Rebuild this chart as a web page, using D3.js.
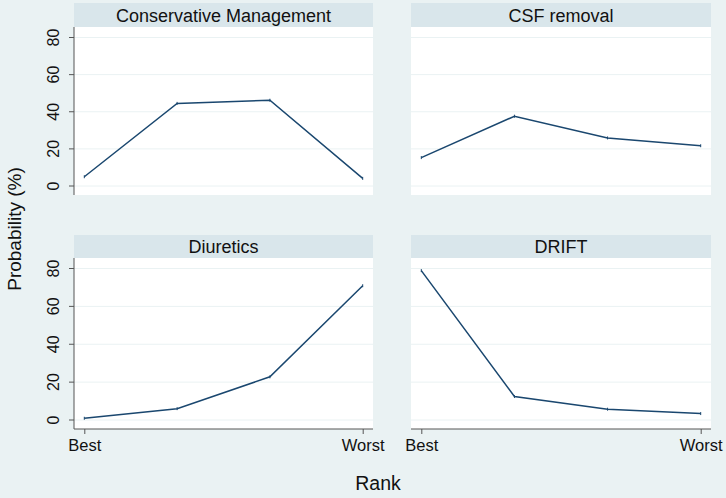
<!DOCTYPE html>
<html><head><meta charset="utf-8">
<script src="https://cdn.jsdelivr.net/npm/d3@7"></script>
<style>body{margin:0;background:#eaf2f3;}svg{display:block;font-family:Arial,"Liberation Sans",sans-serif;}</style>
</head><body>
<svg id="c" width="726" height="498"></svg>
<script>
const panels = ["Conservative Management", "CSF removal", "Diuretics", "DRIFT"];
const ranks = [1, 2, 3, 4];
const rankLabels = ["Best", "Worst"];
const conservative = [5.0, 44.5, 46.2, 4.1];
const csf = [15.3, 37.6, 25.9, 21.7];
const diuretics = [0.9, 6.0, 22.8, 70.9];
const drift = [78.9, 12.4, 5.7, 3.4];
const yTicks = [0, 20, 40, 60, 80];
const seriesList = [conservative, csf, diuretics, drift];

const svg = d3.select("#c");
const bg = "#eaf2f3", strip = "#d9e6eb", lineCol = "#1a476f";
svg.append("rect").attr("width", 726).attr("height", 498).attr("fill", bg);

const cols = [{x0: 74, x1: 373}, {x0: 411, x1: 711}];
const rows = [{s0: 3, s1: 27, p1: 195}, {s0: 235, s1: 258, p1: 429}];

panels.forEach((name, i) => {
  const c = cols[i % 2], r = rows[Math.floor(i / 2)];
  const g = svg.append("g");
  const x = d3.scaleLinear().domain([1, 4]).range([c.x0 + 10.3, c.x1 - 10.3]);
  const yBottom = r.p1 - 9, yTop = r.s1 + 10.5;
  const y = d3.scaleLinear().domain([0, 80]).range([yBottom, yTop]);
  // strip
  g.append("rect").attr("x", c.x0).attr("y", r.s0).attr("width", c.x1 - c.x0).attr("height", r.s1 - r.s0).attr("fill", strip);
  g.append("text").attr("x", (c.x0 + c.x1) / 2).attr("y", (r.s0 + r.s1) / 2 + 6.5).attr("text-anchor", "middle")
    .attr("font-size", 18).attr("fill", "#111").text(name);
  // plot
  g.append("rect").attr("x", c.x0).attr("y", r.s1).attr("width", c.x1 - c.x0).attr("height", r.p1 - r.s1).attr("fill", "#fff");
  g.selectAll(".grid").data(yTicks).join("line")
    .attr("x1", c.x0).attr("x2", c.x1).attr("y1", d => y(d)).attr("y2", d => y(d))
    .attr("stroke", bg).attr("stroke-width", 1);
  // y axis on left col
  if (i % 2 === 0) {
    const ax = g.append("g").attr("transform", `translate(${c.x0},0)`)
      .call(d3.axisLeft(y).tickValues(yTicks).tickSize(5).tickPadding(4).tickSizeOuter(0));
    ax.select(".domain").attr("stroke", "#555").attr("d", `M0,${r.s1}V${r.p1}`);
    ax.selectAll(".tick").attr("transform", "translate(0,0)");
    ax.selectAll(".tick line").attr("stroke", "#555").attr("y1", d => y(d)).attr("y2", d => y(d)).attr("x2", -5);
    ax.selectAll(".tick text").attr("font-size", 16).attr("fill", "#111")
      .attr("text-anchor", "middle").attr("dy", 0)
      .attr("transform", "rotate(-90)")
      .attr("x", d => -y(d)).attr("y", -15);
  }
  // x axis on bottom row
  if (Math.floor(i / 2) === 1) {
    const xa = g.append("g").attr("transform", `translate(0,${r.p1})`)
      .call(d3.axisBottom(x).tickValues([1, 4]).tickFormat((d, j) => rankLabels[j]).tickSize(5).tickPadding(5).tickSizeOuter(0));
    xa.select(".domain").attr("stroke", "#555").attr("d", `M${c.x0},0H${c.x1}`);
    xa.selectAll(".tick line").attr("stroke", "#555");
    xa.selectAll(".tick text").attr("font-size", 16.5).attr("fill", "#111");
  }
  // line
  const data = seriesList[i].map((v, k) => [ranks[k], v]);
  g.append("path").datum(data).attr("fill", "none").attr("stroke", lineCol).attr("stroke-width", 1.5)
    .attr("d", d3.line().x(d => x(d[0])).y(d => y(d[1])));
  g.selectAll(".mk").data(data).join("line")
    .attr("x1", d => x(d[0])).attr("x2", d => x(d[0]))
    .attr("y1", d => y(d[1]) - 1.5).attr("y2", d => y(d[1]) + 1.5)
    .attr("stroke", lineCol).attr("stroke-width", 1);
});

svg.append("text").attr("x", 378).attr("y", 490).attr("text-anchor", "middle").attr("font-size", 19.5).attr("fill", "#111").text("Rank");
svg.append("text").attr("transform", "translate(21,229) rotate(-90)").attr("text-anchor", "middle").attr("font-size", 19).attr("fill", "#111").text("Probability (%)");
</script>
</body></html>
